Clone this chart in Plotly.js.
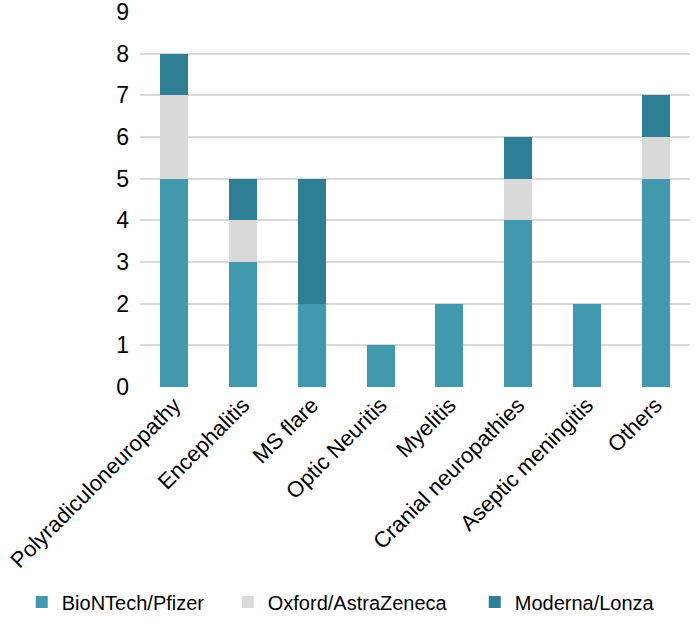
<!DOCTYPE html>
<html>
<head>
<meta charset="utf-8">
<script src="https://cdn.plot.ly/plotly-3.0.1.min.js"></script>
<style>
  body { margin: 0; background: #fff; }
  #chart { width: 699px; height: 632px; }
</style>
</head>
<body>
<div id="chart"></div>
<script>
// データ
const categories = ['Polyradiculoneuropathy', 'Encephalitis', 'MS flare', 'Optic Neuritis',
    'Myelitis', 'Cranial neuropathies', 'Aseptic meningitis', 'Others']
const pfizer = [5, 3, 2, 1, 2, 4, 2, 5]
const astra = [2, 1, 0, 0, 0, 1, 0, 1]
const moderna = [1, 1, 3, 0, 0, 1, 0, 1]

// 凡例の項目幅(px)
const makeTrace = (y, name, color, lw) => ({
    x: categories,
    y: y,
    type: 'bar',
    name: name,
    marker: { color: color },
    legendwidth: lw,
    hoverinfo: 'x+y+name'
})

const traces = [
    makeTrace(pfizer, 'BioNTech/Pfizer', '#4299ae', 161),
    makeTrace(astra, 'Oxford/AstraZeneca', '#d9d9d9', 202),
    makeTrace(moderna, 'Moderna/Lonza', '#2e7f93', 150)
]

const layout = {
    width: 699,
    height: 632,
    margin: { l: 140, r: 9, t: 12, b: 245 },
    barmode: 'stack',
    bargap: 0.59,
    paper_bgcolor: '#fff',
    plot_bgcolor: '#fff',
    font: { family: 'Liberation Sans, Arial, sans-serif', color: '#000' },
    showlegend: true,
    // 凡例はグラフ下に横並び(下端基準にしてマージンが押し広げられないようにする)
    legend: {
        orientation: 'h',
        x: -0.215, xanchor: 'left',
        y: -0.625, yanchor: 'bottom',
        font: { size: 20, color: '#000' },
        traceorder: 'normal',
        itemwidth: 30
    },
    xaxis: {
        tickangle: -45,
        tickfont: { size: 22 },
        showgrid: false,
        showline: false,
        ticks: '',
        automargin: false
    },
    yaxis: {
        range: [0, 9],
        dtick: 1,
        tickfont: { size: 23 },
        gridcolor: '#d9d9d9',
        gridwidth: 1.5,
        zeroline: false,
        showline: false,
        ticklabelstandoff: 10,
        ticklabeloverflow: 'allow',
        automargin: false
    }
}

Plotly.newPlot('chart', traces, layout, { displayModeBar: false })
</script>
</body>
</html>
